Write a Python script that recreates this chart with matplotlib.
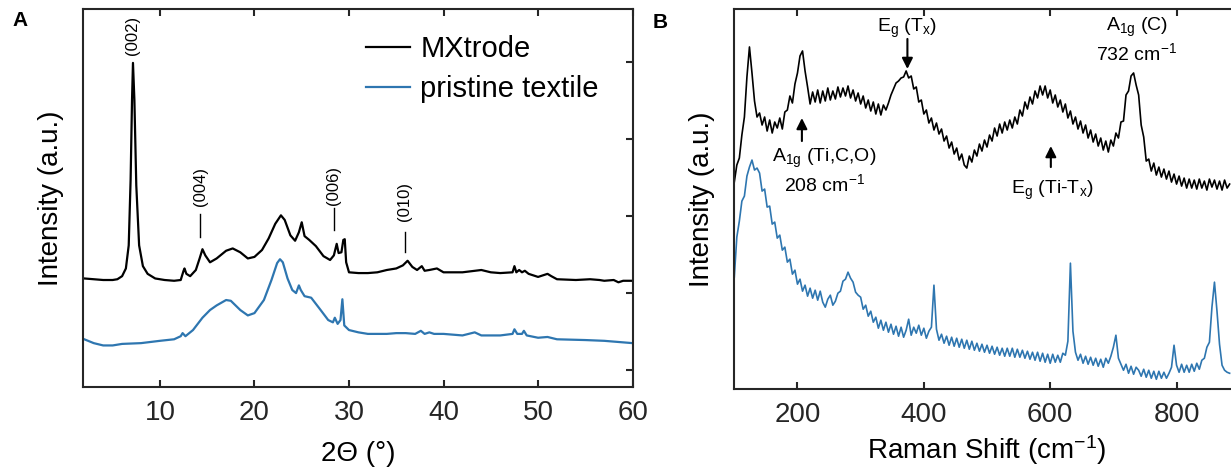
import numpy as np
import matplotlib.pyplot as plt

plt.rcParams['font.family'] = ['Liberation Sans', 'DejaVu Sans']
plt.rcParams['mathtext.fontset'] = 'custom'
plt.rcParams['mathtext.rm'] = 'Liberation Sans'
plt.rcParams['mathtext.it'] = 'Liberation Sans'
plt.rcParams['mathtext.default'] = 'regular'

# ---- panel A: XRD, intensity in arbitrary units ----
xrd_x_mx = [2.0, 3, 4, 5, 5.5, 6.0, 6.4, 6.7, 6.9, 7.05, 7.15, 7.3, 7.5, 7.8, 8.2, 8.7, 9.5,
            10.5, 11.5, 12.2, 12.5, 12.6, 12.8, 13.2, 13.8, 14.2, 14.5, 14.8, 15.3, 16, 17,
            17.7, 18.5, 19.3, 20, 20.8, 21.5, 22.2, 22.8, 23.2, 23.8, 24.3, 24.7, 25.0, 25.3,
            25.8, 26.5, 27.3, 28.0, 28.4, 28.7, 28.9, 29.2, 29.4, 29.55, 29.7, 30.0, 31, 32,
            33, 34, 35, 35.7, 36.2, 36.7, 37.2, 37.7, 38.0, 38.5, 39.3, 40, 42, 44, 45, 46,
            47.3, 47.5, 47.7, 48.0, 48.3, 48.6, 49, 50, 51, 51.4, 52, 54, 55.5, 56.5, 57, 58,
            58.5, 59, 60]
xrd_y_mx = [1.19, 1.18, 1.17, 1.17, 1.18, 1.22, 1.32, 1.62, 2.47, 3.51, 3.99, 3.51, 2.40, 1.62,
            1.35, 1.25, 1.19, 1.17, 1.16, 1.17, 1.29, 1.32, 1.25, 1.22, 1.30, 1.45, 1.57, 1.49,
            1.40, 1.45, 1.55, 1.58, 1.53, 1.45, 1.47, 1.56, 1.71, 1.90, 2.01, 1.95, 1.75, 1.68,
            1.79, 1.92, 1.74, 1.69, 1.61, 1.48, 1.43, 1.49, 1.64, 1.52, 1.53, 1.69, 1.70, 1.40,
            1.27, 1.26, 1.26, 1.27, 1.30, 1.32, 1.36, 1.42, 1.34, 1.30, 1.35, 1.29, 1.30, 1.32,
            1.27, 1.27, 1.30, 1.27, 1.26, 1.27, 1.35, 1.27, 1.30, 1.27, 1.29, 1.25, 1.21, 1.25,
            1.22, 1.18, 1.17, 1.18, 1.17, 1.16, 1.17, 1.14, 1.16, 1.16]

xrd_x_tex = [2.0, 3, 4, 5, 6, 8, 10, 11.5, 12.2, 12.4, 12.7, 13.5, 14.5, 15.3, 16, 17.0, 17.5,
             18.5, 19.3, 20, 21, 21.8, 22.4, 22.7, 23.0, 23.5, 24.0, 24.4, 24.7, 24.9, 25.3, 26,
             27, 27.8, 28.3, 28.5, 28.8, 29.1, 29.3, 29.5, 30, 31, 32, 34, 35, 36, 37, 37.6, 38,
             38.5, 39, 40, 42, 43.3, 44, 46, 47.3, 47.5, 47.8, 48.3, 48.5, 48.8, 50, 51, 52, 55,
             57, 59, 60]
xrd_y_tex = [0.40, 0.35, 0.32, 0.32, 0.34, 0.35, 0.38, 0.40, 0.44, 0.48, 0.44, 0.52, 0.68, 0.78,
             0.84, 0.91, 0.90, 0.78, 0.71, 0.74, 0.91, 1.17, 1.39, 1.44, 1.40, 1.19, 1.04, 1.00,
             1.10, 1.04, 0.96, 0.94, 0.78, 0.65, 0.62, 0.68, 0.60, 0.65, 0.92, 0.58, 0.52, 0.49,
             0.47, 0.47, 0.48, 0.48, 0.47, 0.51, 0.47, 0.49, 0.47, 0.47, 0.45, 0.49, 0.45, 0.45,
             0.47, 0.53, 0.47, 0.47, 0.51, 0.45, 0.42, 0.43, 0.40, 0.39, 0.38, 0.36, 0.35]

# ---- panel B: Raman, sampled every 4 cm-1 from 100 to 884 ----
raman_shift = np.arange(100, 888, 4)
raman_mx = [207, 224, 231, 254, 272, 312, 342, 316, 288, 272,
            276, 264, 272, 258, 269, 256, 267, 261, 271, 260,
            277, 279, 293, 286, 305, 316, 333, 338, 318, 302,
            285, 297, 287, 299, 286, 298, 288, 301, 289, 298,
            290, 302, 292, 301, 293, 303, 291, 299, 288, 296,
            285, 293, 281, 289, 278, 287, 275, 285, 274, 284,
            279, 286, 294, 300, 306, 308, 311, 312, 318, 311,
            313, 300, 302, 287, 289, 275, 279, 266, 271, 259,
            266, 255, 260, 248, 253, 241, 247, 235, 241, 229,
            235, 224, 221, 233, 227, 239, 233, 245, 238, 249,
            242, 254, 248, 261, 253, 265, 256, 267, 259, 269,
            261, 272, 265, 279, 273, 287, 280, 292, 285, 298,
            291, 303, 294, 303, 291, 299, 286, 294, 282, 289,
            277, 285, 271, 278, 265, 272, 260, 268, 256, 264,
            251, 259, 247, 255, 243, 251, 239, 248, 237, 249,
            243, 256, 251, 267, 268, 294, 298, 313, 316, 304,
            294, 264, 252, 228, 230, 218, 226, 214, 222, 212,
            220, 210, 218, 207, 215, 205, 213, 203, 211, 201,
            210, 201, 209, 200, 210, 201, 208, 199, 210, 202,
            209, 200, 208, 199, 209, 201, 205]
raman_tex = [112, 152, 168, 188, 193, 213, 222, 229, 219, 221,
             216, 198, 200, 182, 183, 165, 167, 151, 154, 139,
             142, 127, 130, 115, 119, 105, 110, 98, 104, 93,
             101, 91, 99, 89, 98, 87, 82, 90, 94, 84,
             88, 96, 98, 108, 110, 117, 111, 107, 97, 94,
             92, 80, 84, 73, 78, 67, 72, 61, 69, 59,
             67, 57, 65, 55, 63, 53, 62, 52, 59, 70,
             54, 62, 56, 64, 54, 61, 51, 58, 62, 104,
             60, 49, 55, 46, 53, 44, 52, 43, 51, 42,
             50, 41, 49, 40, 48, 39, 46, 38, 45, 37,
             44, 36, 43, 35, 42, 34, 41, 33, 41, 33,
             41, 32, 40, 32, 39, 31, 38, 30, 37, 29,
             37, 28, 36, 27, 35, 26, 35, 27, 34, 27,
             36, 34, 48, 126, 58, 37, 29, 35, 26, 33,
             25, 32, 24, 31, 23, 30, 22, 31, 26, 33,
             42, 54, 31, 25, 19, 25, 16, 23, 15, 22,
             19, 13, 20, 12, 19, 11, 18, 10, 18, 11,
             17, 11, 16, 22, 44, 24, 17, 25, 17, 24,
             17, 25, 18, 26, 20, 29, 31, 42, 47, 82,
             107, 78, 45, 24, 19, 17, 16]

black = '#000000'
blue = '#2e76b0'
spine_c = '#262626'

fig = plt.figure(figsize=(12.31, 4.69), dpi=100)
axA = fig.add_axes([0.0677, 0.1748, 0.4462, 0.806])
axB = fig.add_axes([0.5965, 0.170, 0.4106, 0.811])

# panel A
axA.plot(xrd_x_mx, xrd_y_mx, color=black, lw=1.6, label='MXtrode')
axA.plot(xrd_x_tex, xrd_y_tex, color=blue, lw=1.6, label='pristine textile')
axA.set_xlim(1.9, 60)
axA.set_ylim(-0.22, 4.69)
axA.set_xticks([10, 20, 30, 40, 50, 60])
axA.set_yticks([0, 1, 2, 3, 4])
axA.tick_params(axis='x', direction='in', top=True, length=5, width=1.5,
                labelsize=20, colors=spine_c, pad=9)
axA.tick_params(axis='y', direction='in', left=False, right=True, labelleft=False,
                length=5, width=1.5, colors=spine_c)
axA.set_xlabel('2Θ (°)', fontsize=20, labelpad=11)
axA.set_ylabel('Intensity (a.u.)', fontsize=20, labelpad=14)
axA.legend(loc='upper left', bbox_to_anchor=(0.515, 0.93), frameon=False, fontsize=21,
           handlelength=1.5, handletextpad=0.35, labelspacing=0.4, borderpad=0,
           borderaxespad=0)

axA.text(7.15, 4.35, '(002)', rotation=90, ha='center', va='center', fontsize=12)
axA.text(14.25, 2.39, '(004)', rotation=90, ha='center', va='center', fontsize=12)
axA.plot([14.25, 14.25], [1.73, 2.03], color=black, lw=1)
axA.text(28.4, 2.40, '(006)', rotation=90, ha='center', va='center', fontsize=12)
axA.plot([28.4, 28.4], [1.82, 2.10], color=black, lw=1)
axA.text(35.9, 2.19, '(010)', rotation=90, ha='center', va='center', fontsize=12)
axA.plot([35.9, 35.9], [1.53, 1.79], color=black, lw=1)

# panel B
axB.plot(raman_shift, raman_mx, color=black, lw=1.2)
axB.plot(raman_shift, raman_tex, color=blue, lw=1.2)
axB.set_xlim(100, 900)
axB.set_ylim(0, 380)
axB.set_xticks([200, 400, 600, 800])
axB.set_yticks([])
axB.tick_params(axis='x', direction='in', top=True, length=5, width=1.5,
                labelsize=20, colors=spine_c, pad=9)
axB.set_xlabel('Raman Shift (cm$^{-1}$)', fontsize=20, labelpad=4)
axB.set_ylabel('Intensity (a.u.)', fontsize=20, labelpad=14)

arrow = dict(arrowstyle='-|>', color=black, lw=1.5, mutation_scale=16, shrinkA=0, shrinkB=0)
axB.annotate('', xy=(207, 271), xytext=(207, 248), arrowprops=arrow)
axB.text(242, 218, 'A$_{1g}$ (Ti,C,O)\n208 cm$^{-1}$', ha='center', va='center',
         fontsize=14, multialignment='center')
axB.annotate('', xy=(374, 320), xytext=(374, 350), arrowprops=arrow)
axB.text(374, 361, 'E$_g$ (T$_x$)', ha='center', va='center', fontsize=14)
axB.text(737, 349, 'A$_{1g}$ (C)\n732 cm$^{-1}$', ha='center', va='center', fontsize=14,
         multialignment='center')
axB.annotate('', xy=(601, 243), xytext=(601, 222), arrowprops=arrow)
axB.text(603, 199, 'E$_g$ (Ti-T$_x$)', ha='center', va='center', fontsize=14)

for ax in (axA, axB):
    for s in ax.spines.values():
        s.set_linewidth(1.5)
        s.set_color(spine_c)

fig.text(0.010, 0.945, 'A', fontsize=15, fontweight='bold')
fig.text(0.530, 0.940, 'B', fontsize=15, fontweight='bold')

fig.savefig('out.png', dpi=100)
